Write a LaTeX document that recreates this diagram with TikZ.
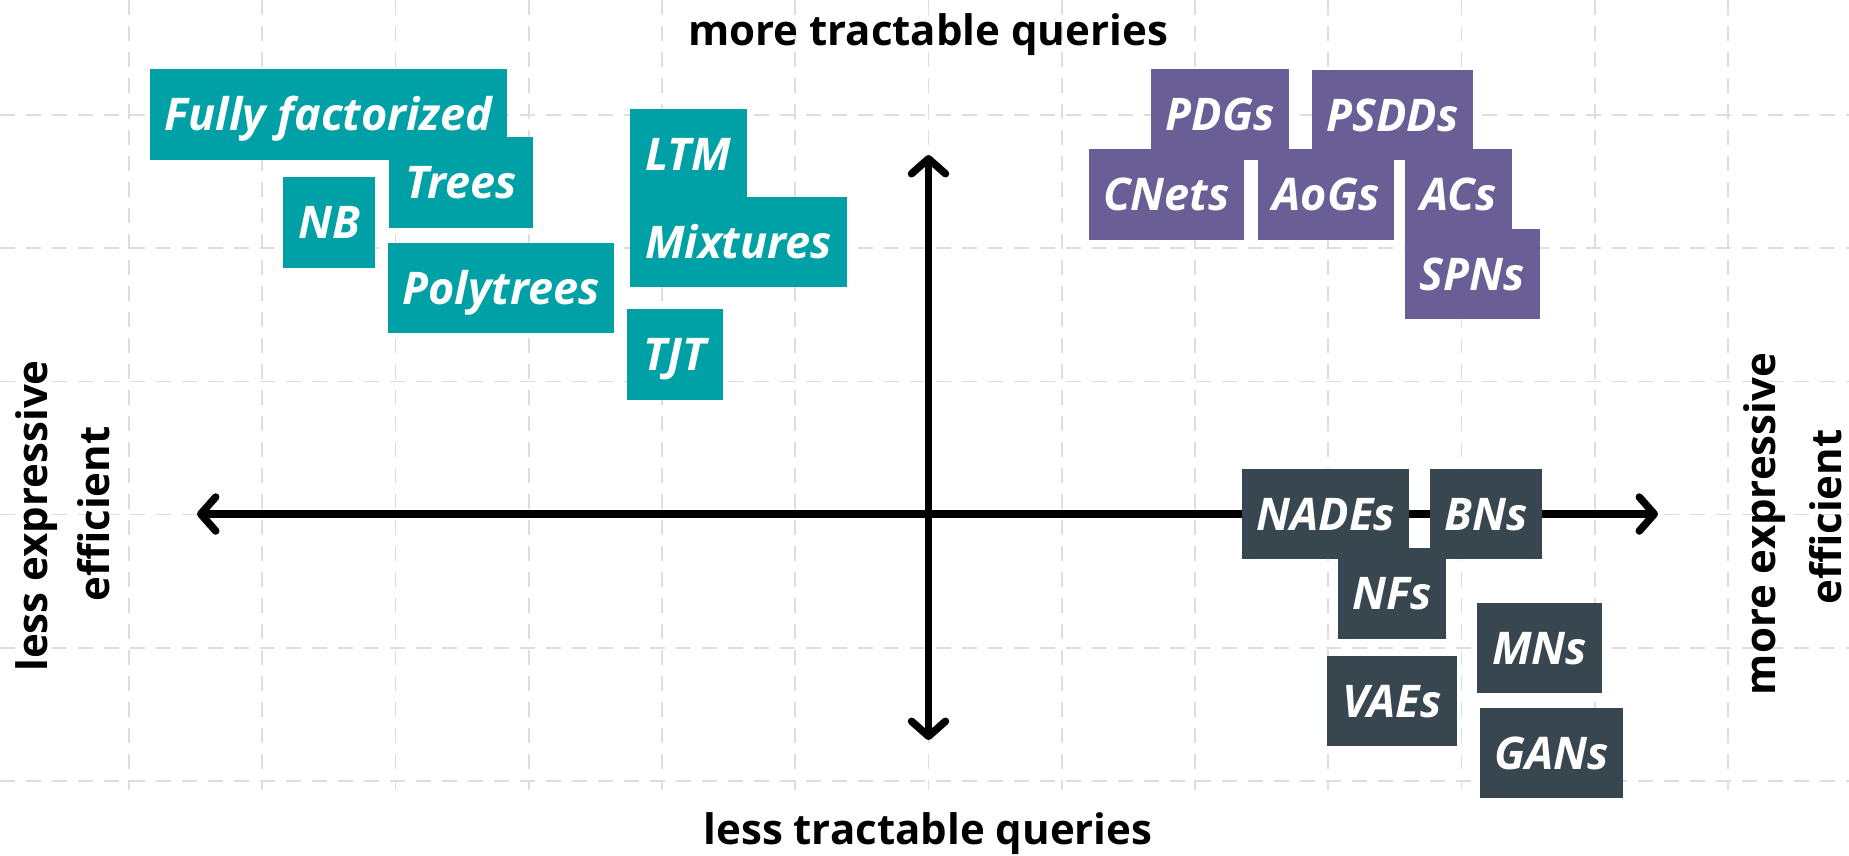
\documentclass[tikz,border=0pt]{standalone}
\usepackage{fontspec}
\setmainfont{Open Sans}
\usetikzlibrary{arrows.meta}
\definecolor{tealbox}{RGB}{0,161,166}
\definecolor{purplebox}{RGB}{106,94,151}
\definecolor{darkbox}{RGB}{56,71,79}
\definecolor{gridgray}{RGB}{222,222,222}
\tikzset{
  gridline/.style={gridgray, line width=1.6pt, dash pattern=on 15pt off 11pt},
  axtip/.tip={Straight Barb[length=15pt,width=34pt,round]},
  axisline/.style={line width=7.5pt, axtip-axtip},
  mbox/.style={inner sep=0pt, text=white, font=\bfseries\itshape\fontsize{45}{54}\selectfont, text height=32pt, text depth=0pt},
  tbox/.style={mbox, fill=tealbox},
  pbox/.style={mbox, fill=purplebox},
  dbox/.style={mbox, fill=darkbox},
  axlabel/.style={font=\bfseries\fontsize{42}{50}\selectfont, inner sep=0pt, anchor=base},
}
\begin{document}
\begin{tikzpicture}[x=1pt,y=-1pt]
\useasboundingbox (0,0) rectangle (1849,855);
\fill[white] (0,0) rectangle (1849,855);
% grid
\foreach \k in {0,...,12} \draw[gridline] ({129+133.25*\k},0) -- ({129+133.25*\k},790);
\foreach \k in {0,...,5} \draw[gridline] (0,{115+133.2*\k}) -- (1849,{115+133.2*\k});
% axes
\coordinate (xl) at (197,514);
\coordinate (xr) at (1658,514);
\coordinate (yt) at (928.5,155);
\coordinate (yb) at (928.5,740);
\draw[axisline] (xl) -- (xr);
\draw[axisline] (yb) -- (yt);
% axis labels
\node[axlabel] (top) at (928,45) {more tractable queries};
\node[axlabel] (bottom) at (928,844) {less tractable queries};
\node[axlabel, rotate=90] (l1) at (47,516) {less expressive};
\node[axlabel, rotate=90] (l2) at (109,514) {efficient};
\node[axlabel, rotate=90] (r1) at (1775,524) {more expressive};
\node[axlabel, rotate=90] (r2) at (1841,517) {efficient};
% teal boxes
\node[tbox, minimum width=357pt, minimum height=91pt] (ff) at (328.5,114.5) {Fully factorized};
\node[tbox, minimum width=144pt, minimum height=91pt] (trees) at (461,182.5) {Trees};
\node[tbox, minimum width=92pt, minimum height=91pt] (nb) at (329,222.5) {NB};
\node[tbox, minimum width=226pt, minimum height=90pt] (poly) at (501,288) {Polytrees};
\node[tbox, minimum width=117pt, minimum height=91pt] (ltm) at (688.5,154.5) {LTM};
\node[tbox, minimum width=217pt, minimum height=90pt] (mix) at (738.5,242) {Mixtures};
\node[tbox, minimum width=96pt, minimum height=91pt] (tjt) at (675,354.5) {TJT};
% purple boxes
\node[pbox, minimum width=138pt, minimum height=91pt] (pdgs) at (1220,114.5) {PDGs};
\node[pbox, minimum width=161pt, minimum height=90pt] (psdds) at (1392.5,115) {PSDDs};
\node[pbox, minimum width=155pt, minimum height=91pt] (cnets) at (1166.5,194.5) {CNets};
\node[pbox, minimum width=136pt, minimum height=91pt] (aogs) at (1326,194.5) {AoGs};
\node[pbox, minimum width=107pt, minimum height=91pt] (acs) at (1458.5,194.5) {ACs};
\node[pbox, minimum width=135pt, minimum height=90pt] (spns) at (1472.5,274) {SPNs};
% dark boxes
\node[dbox, minimum width=167pt, minimum height=90pt] (nades) at (1325.5,514) {NADEs};
\node[dbox, minimum width=112pt, minimum height=90pt] (bns) at (1486,514) {BNs};
\node[dbox, minimum width=108pt, minimum height=91pt] (nfs) at (1392,593.5) {NFs};
\node[dbox, minimum width=125pt, minimum height=90pt] (mns) at (1539.5,648) {MNs};
\node[dbox, minimum width=130pt, minimum height=90pt] (vaes) at (1392,701) {VAEs};
\node[dbox, minimum width=143pt, minimum height=90pt] (gans) at (1551.5,753) {GANs};
\end{tikzpicture}
\end{document}
